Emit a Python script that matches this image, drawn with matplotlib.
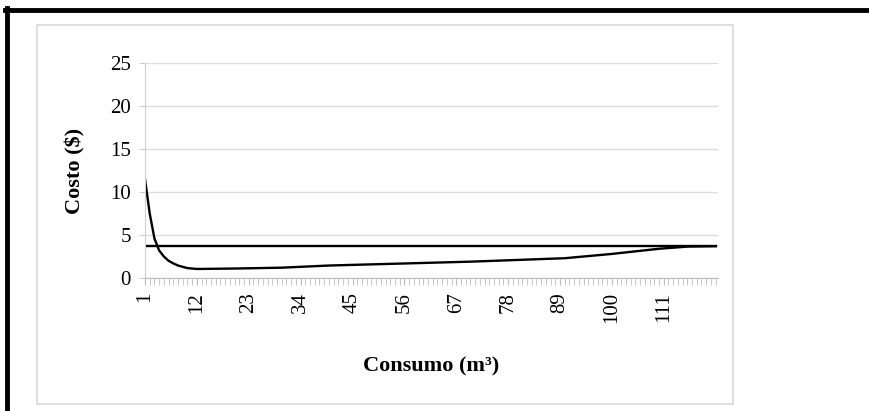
import matplotlib.pyplot as plt
from matplotlib.lines import Line2D
from matplotlib.patches import Rectangle
import numpy as np

# ---------------- data ----------------
consumo = [1, 2, 3, 4, 5, 6, 7, 8, 10, 12, 20, 30, 40, 50, 60, 70, 80, 90, 100, 110, 116, 122]
costo = [11.5, 7.5, 4.6, 3.2, 2.5, 2.0, 1.7, 1.45, 1.15, 1.05, 1.1, 1.2, 1.45, 1.6, 1.75,
         1.9, 2.1, 2.3, 2.8, 3.4, 3.65, 3.7]
tarifa_x = [1, 122]
tarifa_y = [3.7, 3.7]
xtick_labels = [1, 12, 23, 34, 45, 56, 67, 78, 89, 100, 111]
ytick_labels = [0, 5, 10, 15, 20, 25]

plt.rcParams['font.family'] = ['Liberation Serif', 'DejaVu Serif']

fig = plt.figure(figsize=(8.69, 4.11), dpi=100)
W, H = 869, 411

# outer black border (top and left)
fig.add_artist(Line2D([5 / W, 1], [1 - 10 / H, 1 - 10 / H], color='black', lw=3.5))
fig.add_artist(Line2D([7 / W, 7 / W], [0, 1 - 8 / H], color='black', lw=3.5))

# light chart frame
fig.add_artist(Rectangle((37 / W, 1 - 404 / H), (733 - 37) / W, (404 - 25) / H,
                         fill=False, edgecolor='#d8d8d8', lw=1.2))

ax = fig.add_axes([145 / W, 1 - 278 / H, (718 - 145) / W, (278 - 63) / H])

ax.plot(tarifa_x, tarifa_y, color='black', lw=1.7)
ax.plot(consumo, costo, color='black', lw=1.7)

ax.set_xlim(1, 122.5)
ax.set_ylim(0, 25)
ax.set_yticks(ytick_labels)
ax.set_yticklabels([str(v) for v in ytick_labels], fontsize=15)
ax.set_xticks(xtick_labels)
ax.set_xticklabels([str(v) for v in xtick_labels], fontsize=15, rotation=90)
ax.set_xticks(np.arange(1, 123), minor=True)

ax.grid(axis='y', color='#dcdcdc', lw=1)
ax.set_axisbelow(True)
for s in ['top', 'right']:
    ax.spines[s].set_visible(False)
ax.spines['left'].set_color('#cfcfcf')
ax.spines['bottom'].set_color('#bdbdbd')
ax.tick_params(axis='y', length=4, color='#cfcfcf', pad=6)
ax.tick_params(axis='x', which='both', length=5, color='#bdbdbd', pad=5)

ax.set_ylabel('Costo ($)', fontsize=16, fontweight='bold', labelpad=18)
ax.set_xlabel('Consumo (m\u00b3)', fontsize=16, fontweight='bold', labelpad=24)

fig.savefig('out.png', dpi=100)
